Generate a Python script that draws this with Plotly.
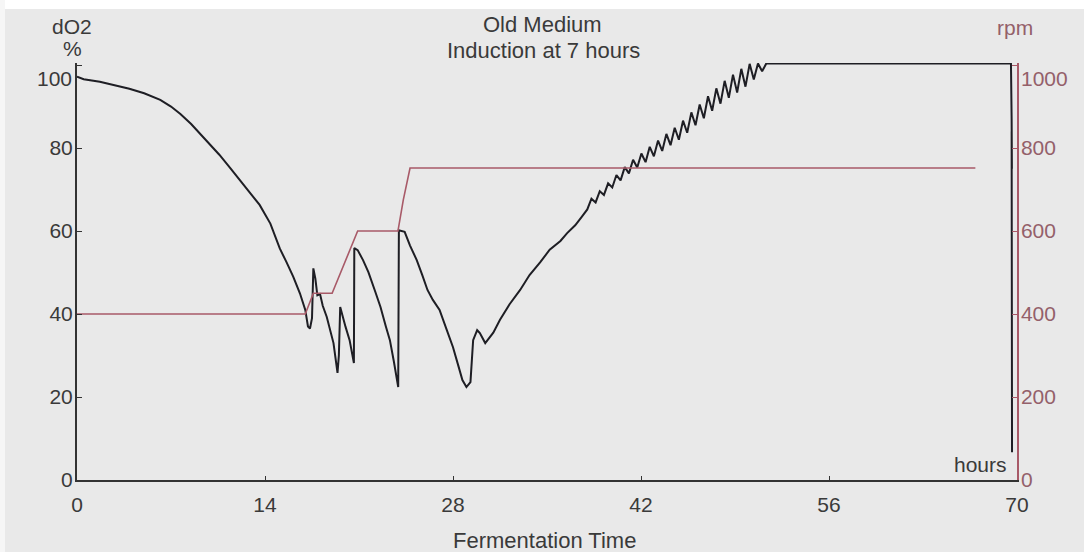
import plotly.graph_objects as go

# ---------------- data ----------------
do2_hours = [
    0.0, 0.5, 1.7, 3.0, 3.9, 5.0, 6.2, 7.0, 7.7, 8.5, 9.2, 10.0, 10.6, 11.4, 12.1,
    12.9, 13.6, 14.4, 15.1, 15.6, 16.1, 16.6, 17.0, 17.2, 17.35, 17.5, 17.6, 17.75,
    17.9, 18.1, 18.3, 18.6, 19.1, 19.4, 19.5, 19.6, 19.8, 20.0, 20.3, 20.62, 20.65,
    20.9, 21.3, 21.7, 22.2, 22.6, 23.0, 23.3, 23.6, 23.92, 23.97, 24.4, 24.8, 25.3,
    25.7, 26.1, 26.5, 27.0, 27.5, 28.0, 28.4, 28.7, 29.0, 29.3, 29.5, 29.8, 30.0,
    30.4, 31.0, 31.5, 32.2, 33.0, 33.7, 34.5, 35.2, 36.0, 36.5, 37.1, 37.6,
    38.00, 38.31, 38.62, 38.93, 39.24, 39.55, 39.86, 40.17, 40.48, 40.79, 41.10,
    41.41, 41.72, 42.03, 42.34, 42.65, 42.96, 43.27, 43.58, 43.89, 44.20, 44.51,
    44.82, 45.13, 45.44, 45.75, 46.06, 46.37, 46.68, 46.99, 47.30, 47.61, 47.92,
    48.23, 48.54, 48.85, 49.16, 49.47, 49.78, 50.09, 50.40, 50.71, 51.02, 51.33,
    51.6, 69.55, 69.6, 69.62, 69.6, 69.63,
]
do2_values = [
    97.2, 96.6, 96.0, 95.0, 94.3, 93.2, 91.6, 90.0, 88.2, 85.8, 83.3, 80.6, 78.4, 75.2, 72.3,
    69.2, 66.3, 61.8, 55.8, 52.5, 49.0, 45.0, 41.0, 37.0, 36.5, 39.0, 51.0, 48.5,
    44.5, 44.8, 42.0, 39.3, 33.0, 25.8, 30.0, 41.7, 39.0, 36.9, 33.7, 28.2, 55.9,
    55.4, 53.0, 50.1, 45.5, 41.7, 37.0, 33.7, 28.5, 22.4, 60.2, 59.8, 56.5, 53.0,
    49.5, 45.8, 43.4, 41.0, 36.5, 32.0, 27.5, 24.1, 22.4, 23.6, 33.7, 36.1, 35.4,
    33.0, 35.5, 38.6, 42.3, 45.8, 49.4, 52.5, 55.5, 57.6, 59.5, 61.4, 63.5,
    65.2, 67.8, 66.9, 69.6, 68.7, 71.5, 70.5, 73.5, 72.2, 75.4, 73.9,
    77.2, 75.3, 78.7, 76.6, 80.3, 78.0, 81.8, 79.3, 83.4, 80.7, 84.9,
    82.0, 86.6, 83.7, 88.6, 85.5, 90.5, 87.2, 92.5, 89.0, 94.4, 90.7,
    96.2, 92.1, 97.7, 93.4, 99.1, 94.8, 100.3, 96.5, 100.4, 98.5, 100.4,
    100.4, 100.4, 87.0, 75.0, 84.0, 6.7,
]

rpm_hours = [0.0, 17.0, 17.6, 19.0, 20.9, 23.9, 24.3, 24.8, 66.9]
rpm_values = [400, 400, 450, 450, 600, 600, 675, 752, 752]

x_ticks = [0, 14, 28, 42, 56, 70]
left_ticks = [0, 20, 40, 60, 80, 100]
left_labels = ["0", "20", "40", "60", "80", ""]      # "100" drawn lower, as in the scan
right_ticks = [0, 200, 400, 600, 800, 1000]
right_labels = ["0", "200", "400", "600", "800", ""]  # "1000" drawn lower, as in the scan

# ---------------- layout helpers (pixel geometry) ----------------
W, H = 1084, 552
L, R, T, B = 77, 1017, 63, 480
FONT = "Liberation Sans"
FS = 21
TXT = "#3a3a3a"
RED = "#a85a68"
REDTXT = "#94606a"
BG = "#e9e9e9"


def px(xp):
    return (xp - L) / (R - L)


def py(yp):
    return (B - yp) / (B - T)


fig = go.Figure()
fig.add_trace(go.Scatter(x=rpm_hours, y=rpm_values, mode="lines", yaxis="y2",
                         line=dict(color=RED, width=1.6), hoverinfo="skip",
                         showlegend=False))
fig.add_trace(go.Scatter(x=do2_hours, y=do2_values, mode="lines",
                         line=dict(color="#1e1e24", width=2), hoverinfo="skip",
                         showlegend=False))

fig.update_layout(
    width=W, height=H,
    margin=dict(l=L, r=W - R, t=T, b=H - B, pad=0),
    paper_bgcolor=BG, plot_bgcolor=BG,
    font=dict(family=FONT, size=FS, color=TXT),
    showlegend=False,
    xaxis=dict(range=[0, 70], tickvals=x_ticks, ticks="inside", ticklen=4,
               tickcolor="#333", showgrid=False, zeroline=False,
               showline=True, linecolor="#333", linewidth=2,
               tickfont=dict(size=FS, color=TXT), ticklabelstandoff=5),
    yaxis=dict(range=[0, 100.5], tickvals=left_ticks, ticktext=left_labels,
               ticks="inside", ticklen=5,
               tickcolor="#333", showgrid=False, zeroline=False,
               showline=True, linecolor="#333", linewidth=2,
               tickfont=dict(size=FS, color=TXT), ticklabelstandoff=-2),
    yaxis2=dict(range=[0, 1005], tickvals=right_ticks, ticktext=right_labels,
                overlaying="y", side="right",
                ticks="inside", ticklen=5, tickcolor=RED, showgrid=False,
                zeroline=False, showline=True, linecolor=RED, linewidth=1.5,
                tickfont=dict(size=FS, color=REDTXT), ticklabelstandoff=-2),
)

ann = [
    ("Old Medium", 542, 25, "center", TXT, 22),
    ("Induction at 7 hours", 543, 51, "center", TXT, 22),
    ("dO2", 72, 26, "center", TXT, FS),
    ("%", 72, 48, "center", TXT, FS),
    ("rpm", 1015, 27, "center", REDTXT, FS),
    ("Fermentation Time", 544, 540, "center", TXT, 22),
    ("100", 74, 78, "right", TXT, FS),
    ("1000", 1019, 78, "left", REDTXT, FS),
    ("hours", 1009, 464, "right", TXT, FS),
]
for text, xp, yp, xa, col, fs in ann:
    fig.add_annotation(text=text, xref="paper", yref="paper", x=px(xp), y=py(yp),
                       xanchor=xa, yanchor="middle", showarrow=False,
                       font=dict(family=FONT, size=fs, color=col))

# white scan borders
fig.add_shape(type="rect", xref="paper", yref="paper", x0=px(0), x1=px(W), y0=py(9),
              y1=py(0), fillcolor="white", line=dict(width=0), layer="below")
fig.add_shape(type="rect", xref="paper", yref="paper", x0=px(0), x1=px(5), y0=py(H),
              y1=py(0), fillcolor="#f6f6f6", line=dict(width=0), layer="below")

fig.write_html("out.html")
